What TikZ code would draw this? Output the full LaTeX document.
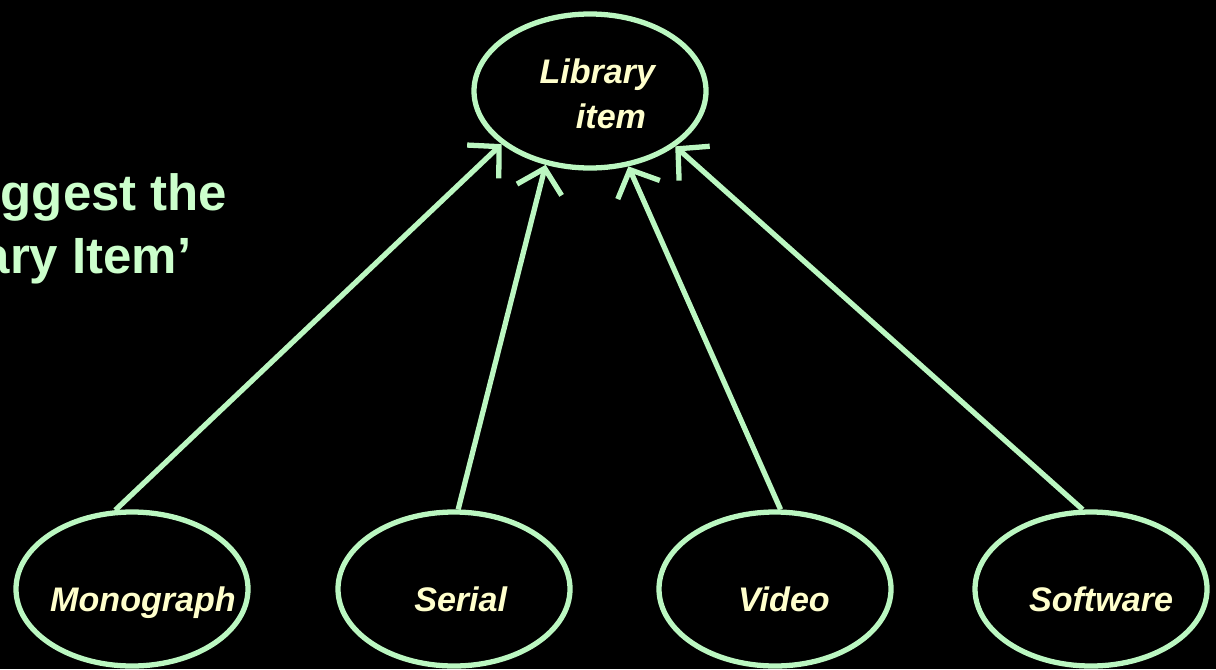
\documentclass[tikz,border=0pt]{standalone}
\usepackage{fontspec}
\setmainfont{Liberation Sans}
\usetikzlibrary{arrows.meta,shapes.geometric}
\definecolor{mint}{HTML}{BBF7C1}
\definecolor{pale}{HTML}{CCFFCC}
\definecolor{cream}{HTML}{FFFFCC}
\newcommand\itemtag[1]{\textbf{\textit{#1}}}

\begin{document}
\begin{tikzpicture}[
	itembox/.style={ellipse,draw=mint,line width=1.5pt,minimum width=2.32cm,minimum height=1.54cm,inner sep=0pt},
	itemtext/.style={anchor=base,text=cream,font=\fontsize{9.7}{12.8}\selectfont,inner sep=0pt},
	headtext/.style={anchor=base east,text=pale,font=\fontsize{14.5}{17}\selectfont\bfseries,inner sep=0pt},
	isa/.style={draw=mint,line width=1.5pt,-{Straight Barb[length=2.2mm,width=4.6mm]}}]
	\fill[black] (0,0) rectangle (12.16,6.69);
	\useasboundingbox (0,0) rectangle (12.16,6.69);

	% heading, cut at the left edge
	\node[headtext] (head1) at (2.28,4.59) {ggest the};
	\node[headtext] (head2) at (1.92,3.96) {ary Item’};

	% the items
	\node[itembox] (lib) at (5.90,5.78) {};
	\node[itembox] (mono) at (1.32,0.80) {};
	\node[itembox] (serial) at (4.54,0.80) {};
	\node[itembox] (video) at (7.75,0.80) {};
	\node[itembox] (soft) at (10.91,0.80) {};

	\node[itemtext,align=center] (libt) at (5.98,5.41) {\itemtag{Library}\\\hspace*{0.26cm}\itemtag{item}};
	\node[itemtext] (monot) at (1.43,0.58) {\itemtag{Monograph}};
	\node[itemtext] (serialt) at (4.61,0.58) {\itemtag{Serial}};
	\node[itemtext] (videot) at (7.84,0.58) {\itemtag{Video}};
	\node[itemtext] (softt) at (11.01,0.58) {\itemtag{Software}};

	% generalisation arrows
	\draw[isa] (mono.102) -- (lib.211);
	\draw[isa] (serial.87) -- (lib.239);
	\draw[isa] (video.86) -- (lib.297);
	\draw[isa] (soft.96) -- (lib.327);
\end{tikzpicture}
\end{document}
